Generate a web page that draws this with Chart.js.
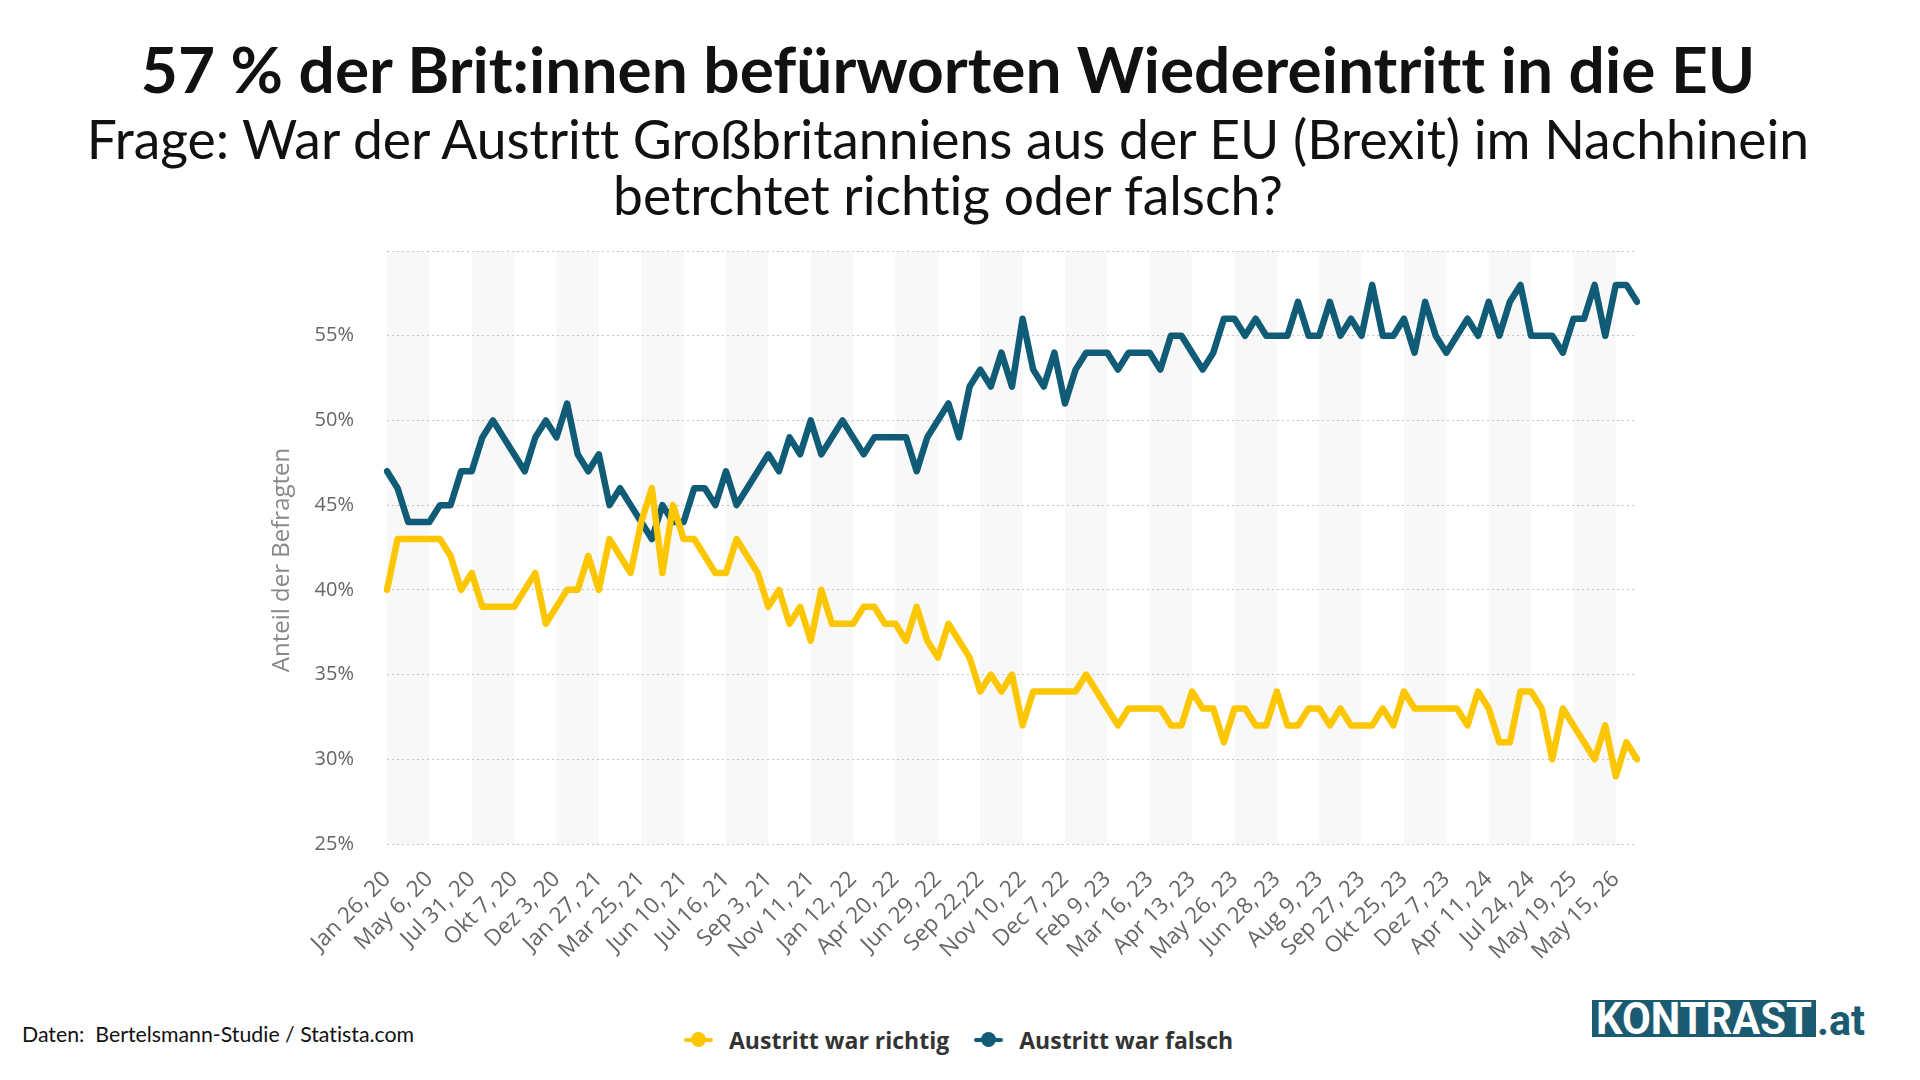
<!DOCTYPE html>
<html lang="de">
<head>
<meta charset="utf-8">
<title>Brexit Umfrage</title>
<script src="https://cdn.jsdelivr.net/npm/chart.js@4.4.1/dist/chart.umd.min.js"></script>
<style>
  html, body { margin: 0; padding: 0; background: #fff; }
  body { position: relative; width: 1920px; height: 1080px; overflow: hidden; font-family: Lato, "Open Sans", sans-serif; color: #111; font-variant-ligatures: none; }
  .head { position: absolute; left: 0; width: 1896px; text-align: center; white-space: nowrap; }
  #title { top: 30px; font-size: 64px; font-weight: 700; line-height: 77px; }
  #sub { top: 110px; font-size: 53.4px; font-weight: 400; line-height: 56px; }
  #chartBox { position: absolute; left: 240px; top: 215px; }
  #legend { position: absolute; left: 683px; top: 1025px; height: 30px; display: flex; align-items: center; font-family: "Open Sans", sans-serif; font-weight: 700; font-size: 23px; color: #333; white-space: nowrap; }
  #legend .item { display: flex; align-items: center; margin-right: 24px; }
  #legend .mk { position: relative; width: 31px; height: 16px; margin-right: 15px; }
  #legend .mk::before { content: ""; position: absolute; left: 1px; right: 1px; top: 6px; height: 4px; border-radius: 2px; background: var(--c); }
  #legend .mk::after { content: ""; position: absolute; left: 8px; top: 0; width: 15px; height: 15px; border-radius: 50%; background: var(--c); }
  #source { position: absolute; left: 22px; top: 1022px; font-size: 21.3px; line-height: 25px; white-space: pre; color: #111; }
  #logo { position: absolute; left: 1592px; top: 1000px; }
</style>
</head>
<body>
<div id="title" class="head">57 % der Brit:innen befürworten Wiedereintritt in die EU</div>
<div id="sub" class="head">Frage: War der Austritt Großbritanniens aus der EU (Brexit) im Nachhinein<br>betrchtet richtig oder falsch?</div>

<div id="chartBox"><canvas id="chart" width="1420" height="785"></canvas></div>

<div id="legend"></div>
<div id="source">Daten:  Bertelsmann-Studie / Statista.com</div>
<svg id="logo" width="276" height="40" viewBox="0 0 276 40">
  <rect x="0" y="0" width="224" height="37" fill="#1b5b71"/>
  <text x="4" y="34" font-family="Roboto" font-weight="700" font-size="45" fill="#fff" textLength="216" lengthAdjust="spacingAndGlyphs">KONTRAST</text>
  <text x="225" y="35" font-family="Roboto" font-weight="700" font-size="42" fill="#1b5b71" textLength="48" lengthAdjust="spacingAndGlyphs">.at</text>
</svg>

<script>
// tick labels, one every 4 survey waves
var tickLabels = ["Jan 26, 20", "May 6, 20", "Jul 31, 20", "Okt 7, 20", "Dez 3, 20", "Jan 27, 21",
  "Mar 25, 21", "Jun 10, 21", "Jul 16, 21", "Sep 3, 21", "Nov 11, 21", "Jan 12, 22", "Apr 20, 22",
  "Jun 29, 22", "Sep 22,22", "Nov 10, 22", "Dec 7, 22", "Feb 9, 23", "Mar 16, 23", "Apr 13, 23",
  "May 26, 23", "Jun 28, 23", "Aug 9, 23", "Sep 27, 23", "Okt 25, 23", "Dez 7, 23", "Apr 11, 24",
  "Jul 24, 24", "May 19, 25", "May 15, 26"];
var labelStep = 4;

var seriesNames = ["Austritt war richtig", "Austritt war falsch"];
var seriesColors = ["#fcc600", "#105c76"];

// Austritt war richtig (%)
var richtig = [
  40, 43, 43, 43, 43, 43, 42, 40, 41, 39, 39, 39, 39, 40, 41, 38, 39, 40, 40, 42,
  40, 43, 42, 41, 44, 46, 41, 45, 43, 43, 42, 41, 41, 43, 42, 41, 39, 40, 38, 39,
  37, 40, 38, 38, 38, 39, 39, 38, 38, 37, 39, 37, 36, 38, 37, 36, 34, 35, 34, 35,
  32, 34, 34, 34, 34, 34, 35, 34, 33, 32, 33, 33, 33, 33, 32, 32, 34, 33, 33, 31,
  33, 33, 32, 32, 34, 32, 32, 33, 33, 32, 33, 32, 32, 32, 33, 32, 34, 33, 33, 33,
  33, 33, 32, 34, 33, 31, 31, 34, 34, 33, 30, 33, 32, 31, 30, 32, 29, 31, 30];

// Austritt war falsch (%)
var falsch = [
  47, 46, 44, 44, 44, 45, 45, 47, 47, 49, 50, 49, 48, 47, 49, 50, 49, 51, 48, 47,
  48, 45, 46, 45, 44, 43, 45, 44, 44, 46, 46, 45, 47, 45, 46, 47, 48, 47, 49, 48,
  50, 48, 49, 50, 49, 48, 49, 49, 49, 49, 47, 49, 50, 51, 49, 52, 53, 52, 54, 52,
  56, 53, 52, 54, 51, 53, 54, 54, 54, 53, 54, 54, 54, 53, 55, 55, 54, 53, 54, 56,
  56, 55, 56, 55, 55, 55, 57, 55, 55, 57, 55, 56, 55, 58, 55, 55, 56, 54, 57, 55,
  54, 55, 56, 55, 57, 55, 57, 58, 55, 55, 55, 54, 56, 56, 58, 55, 58, 58, 57];

var categories = richtig.map(function (v, i) {
  return i % labelStep === 0 ? tickLabels[i / labelStep] : "";
});

// light vertical bands behind every other label interval
var bandPlugin = {
  id: "bands",
  beforeDraw: function (chart) {
    var ctx = chart.ctx, a = chart.chartArea, x = chart.scales.x;
    ctx.save();
    ctx.fillStyle = "#f8f8f8";
    for (var k = 0; k * labelStep < categories.length; k += 2) {
      var x0 = x.getPixelForValue(k * labelStep);
      var x1 = x.getPixelForValue(Math.min((k + 1) * labelStep, categories.length - 1));
      ctx.fillRect(x0, a.top, x1 - x0, a.bottom - a.top);
    }
    ctx.restore();
  }
};

var datasets = [richtig, falsch].map(function (d, i) {
  return {
    label: seriesNames[i],
    data: d,
    borderColor: seriesColors[i],
    backgroundColor: seriesColors[i],
    borderWidth: 6.5,
    borderJoinStyle: "round",
    borderCapStyle: "round",
    pointRadius: 0,
    tension: 0
  };
});

new Chart("chart", {
  type: "line",
  data: { labels: categories, datasets: datasets },
  options: {
    responsive: false,
    animation: false,
    devicePixelRatio: 1,
    layout: { padding: { top: 36, right: 23, bottom: 0, left: 0 } },
    plugins: { legend: { display: false }, tooltip: { enabled: false } },
    scales: {
      x: {
        offset: false,
        grid: { display: false },
        border: { display: false },
        ticks: {
          autoSkip: false, minRotation: 45, maxRotation: 45, padding: 14,
          color: "#666", font: { family: "Open Sans", size: 22.5 }
        },
        afterFit: function (s) { s.height = 156; s.paddingRight = 0; }
      },
      y: {
        min: 25, max: 60,
        grid: { color: "#c4c4c4", lineWidth: 1, drawTicks: false },
        border: { display: false, dash: [2, 3] },
        ticks: {
          stepSize: 5, padding: 33, color: "#666", font: { family: "Open Sans", size: 20 },
          callback: function (v) { return v === 60 ? "" : v + "%"; }
        },
        title: {
          display: true, text: "Anteil der Befragten    ", color: "#888",
          font: { family: "Open Sans", size: 24 }, padding: { top: 28, bottom: 0 }
        },
        afterFit: function (s) { s.width = 147; s.paddingTop = 0; s.paddingBottom = 0; }
      }
    }
  },
  plugins: [bandPlugin]
});

// legend built from the series names and colours
var legend = document.getElementById("legend");
seriesNames.forEach(function (name, i) {
  var item = document.createElement("span");
  item.className = "item";
  item.innerHTML = '<i class="mk" style="--c:' + seriesColors[i] + '"></i>' + name;
  legend.appendChild(item);
});
</script>
</body>
</html>
